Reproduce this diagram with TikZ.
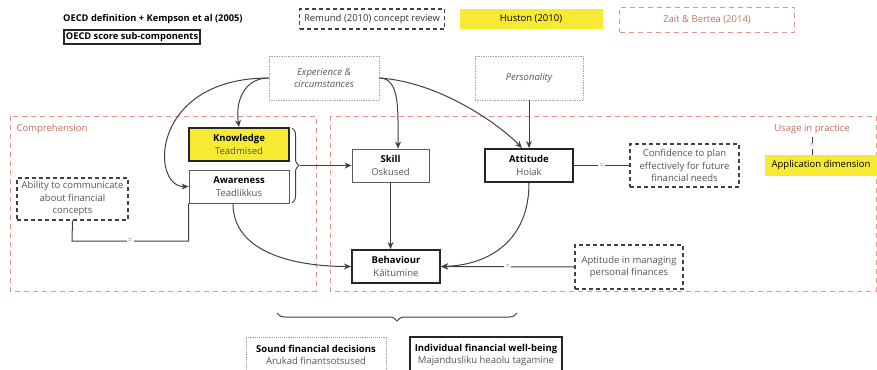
\documentclass[tikz,border=0pt]{standalone}
\usepackage{fontspec}
\setmainfont{Open Sans}
\usetikzlibrary{arrows.meta,decorations.pathreplacing}
\definecolor{salmon}{RGB}{226,150,138}
\definecolor{salmontext}{RGB}{196,112,92}
\definecolor{hiyellow}{RGB}{246,234,50}
\definecolor{boxgray}{RGB}{90,90,90}
\definecolor{txtgray}{RGB}{85,85,85}
\begin{document}
\begin{tikzpicture}[x=1pt,y=-1pt,font=\fontsize{9.5}{12.5}\selectfont]
		\useasboundingbox (0,0) rectangle (877,369);
		\tikzstyle{region}=[draw=salmon,line width=0.8pt,dash pattern=on 5pt off 4pt]
		\tikzstyle{concept}=[draw=boxgray,line width=0.9pt,fill=white,align=center,text=txtgray,inner sep=2pt]
		\tikzstyle{strong}=[concept,draw=black!85,line width=2pt]
		\tikzstyle{aside}=[draw=black!75,line width=1.2pt,dash pattern=on 4pt off 3pt,align=center,text=txtgray,inner sep=2pt]
		\tikzstyle{cause}=[draw=gray!70,densely dotted,line width=0.7pt,align=center,text=txtgray,font=\fontsize{9.5}{12.5}\selectfont\itshape]
		\tikzstyle{link}=[draw=black!75,line width=1pt,-{Stealth[length=7pt,width=6pt]}]
		\tikzstyle{same}=[draw=black!75,line width=1pt]
		\tikzstyle{eq}=[fill=white,text=gray,inner sep=1.5pt,font=\fontsize{7.5}{7.5}\selectfont]
		% regions
		\draw[region] (10,116) rectangle (316,291);
		\draw[region] (330,116) rectangle (876,291);
		\node[anchor=west,text=salmontext] (comp) at (13,129) {Comprehension};
		\node[text=salmontext] (usage) at (812,129) {Usage in practice};
		% legend
		\node[anchor=west,font=\fontsize{9.3}{11}\selectfont\bfseries,inner sep=0pt] (oecd) at (63,19) {OECD definition + Kempson et al (2005)};
		\node[anchor=west,draw=black!85,line width=1.8pt,font=\fontsize{9.3}{11}\selectfont\bfseries,inner sep=2pt] (sub) at (63,37) {OECD score sub-components};
		\node[aside,text=black!80,minimum width=145pt,minimum height=20pt] (remund) at (372,19) {Remund (2010) concept review};
		\node[fill=hiyellow,minimum width=143pt,minimum height=20pt] (huston) at (531,19) {Huston (2010)};
		\node[draw=salmon,line width=0.9pt,dash pattern=on 5pt off 4pt,text=salmontext,minimum width=175pt,minimum height=25pt] (zait) at (707,19.5) {Zait \& Bertea (2014)};
		% causes
		\node[cause,minimum width=110pt,minimum height=44pt] (exper) at (324,78) {Experience \&\\circumstances};
		\node[cause,minimum width=108pt,minimum height=44pt] (pers) at (529,78) {Personality};
		% components
		\node[strong,fill=hiyellow,minimum width=100pt,minimum height=33pt] (know) at (239,144.5) {\textbf{\textcolor{black}{Knowledge}}\\Teadmised};
		\node[concept,minimum width=100pt,minimum height=33pt] (aware) at (239,186.5) {\textbf{\textcolor{black}{Awareness}}\\Teadlikkus};
		\node[concept,minimum width=77pt,minimum height=33pt] (skill) at (390.5,165.5) {\textbf{\textcolor{black}{Skill}}\\Oskused};
		\node[strong,minimum width=88pt,minimum height=33pt] (att) at (529,165.5) {\textbf{\textcolor{black}{Attitude}}\\Hoiak};
		\node[strong,minimum width=88pt,minimum height=33pt] (behav) at (396,266.5) {\textbf{\textcolor{black}{Behaviour}}\\Käitumine};
		% other sources
		\node[aside,minimum width=111pt,minimum height=42pt,inner sep=1pt] (ability) at (72.5,199) {Ability to communicate\\about financial\\concepts};
		\node[aside,minimum width=109pt,minimum height=43pt,inner sep=1pt] (conf) at (684.5,165.5) {Confidence to plan\\effectively for future\\financial needs};
		\node[aside,minimum width=108pt,minimum height=44pt] (apt) at (629,267) {Aptitude in managing\\personal finances};
		\node[fill=hiyellow,minimum width=112pt,minimum height=21pt] (appl) at (821,165.5) {Application dimension};
		% outcomes
		\node[concept,draw=gray!80,densely dotted,minimum width=140pt,minimum height=36pt] (sound) at (316,355) {\textbf{\textcolor{black}{Sound financial decisions}}\\Arukad finantsotsused};
		\node[strong,minimum width=152pt,minimum height=36pt] (wellb) at (486,355) {\textbf{\textcolor{black}{Individual financial well-being}}\\Majandusliku heaolu tagamine};
		% arrows
		\draw[link] (exper.west) .. controls (245,78) and (235,100) .. (know.north);
		\draw[link] (exper.west) .. controls (150,78) and (150,187) .. (aware.west);
		\draw[link] (exper.east) .. controls (400,78) and (398,110) .. (skill.north -| 398,0);
		\draw[link] (exper.east) .. controls (440,82) and (500,125) .. (att.north -| 522,0);
		\draw[link] (pers.south) -- (att.north);
		\draw[link] (skill.south) -- (skill.south |- behav.north);
		\draw[link] (att.south) .. controls (529,240) and (490,265) .. (behav.east);
		\draw[link] (aware.south -| 233,0) .. controls (233,255) and (300,266.5) .. (behav.west);
		\draw[same,decorate,decoration={brace,amplitude=7pt}] (292,128) -- (292,203);
		\coordinate (btip) at (300,165.5);
		\draw[link] (btip) -- (skill.west);
		\draw[same,decorate,decoration={brace,amplitude=8pt}] (517,313) -- (277,313);
		% equivalences
		\draw[link] (apt.west) -- node[eq] {=} (behav.east);
		\draw[same] (att.east) -- node[eq] {=} (conf.west);
		\draw[same] (ability.south) -- (72,241) -- node[eq] {=} (aware.south west |- 0,241) -- (aware.south west);
		\draw[same,line width=0.8pt] (usage.south) -- node[eq] {=} (usage.south |- appl.north);
\end{tikzpicture}
\end{document}
